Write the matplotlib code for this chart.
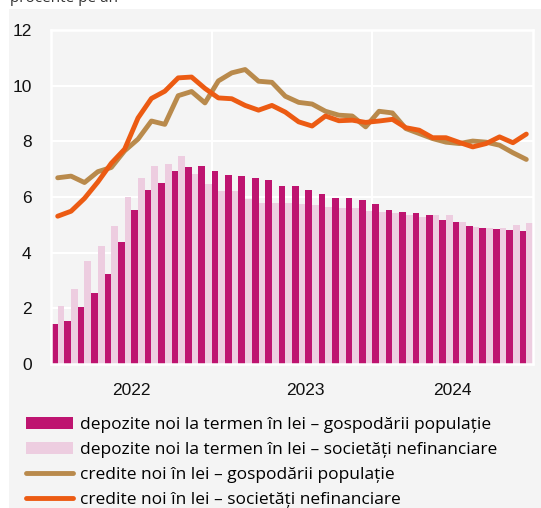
import matplotlib
matplotlib.use("Agg")
import matplotlib.pyplot as plt
from matplotlib.patches import Patch, Rectangle
from matplotlib.lines import Line2D
import numpy as np

# Date (procente pe an), lunar, 36 de luni
dep_gosp = [1.44, 1.54, 2.05, 2.56, 3.22, 4.37, 5.52, 6.25, 6.49, 6.94, 7.06, 7.13,
            6.94, 6.80, 6.74, 6.70, 6.61, 6.38, 6.38, 6.25, 6.10, 5.98, 5.97, 5.88,
            5.74, 5.53, 5.47, 5.41, 5.35, 5.18, 5.11, 4.96, 4.88, 4.86, 4.81, 4.79]
dep_soc = [2.08, 2.69, 3.70, 4.23, 4.96, 6.00, 6.70, 7.11, 7.18, 7.47, 6.81, 6.47,
           6.21, 6.22, 5.92, 5.78, 5.79, 5.78, 5.76, 5.71, 5.63, 5.62, 5.59, 5.49,
           5.46, 5.42, 5.34, 5.28, 5.34, 5.34, 5.11, 4.94, 4.88, 4.88, 4.98, 5.07]
cred_gosp = [6.69, 6.75, 6.52, 6.91, 7.06, 7.66, 8.08, 8.73, 8.61, 9.64, 9.79, 9.38,
             10.17, 10.46, 10.58, 10.16, 10.12, 9.62, 9.40, 9.34, 9.08, 8.94, 8.91, 8.52,
             9.08, 9.02, 8.46, 8.28, 8.10, 7.97, 7.92, 8.01, 7.97, 7.86, 7.59, 7.35]
cred_soc = [5.31, 5.49, 5.95, 6.54, 7.21, 7.72, 8.84, 9.54, 9.80, 10.28, 10.31, 9.90,
            9.56, 9.53, 9.29, 9.12, 9.29, 9.05, 8.70, 8.55, 8.91, 8.74, 8.76, 8.68,
            8.73, 8.79, 8.49, 8.40, 8.13, 8.13, 7.96, 7.80, 7.92, 8.16, 7.95, 8.26]
ani_pos = [5.5, 18.5, 29.5]
ani_etichete = ["2022", "2023", "2024"]
etichete = ["depozite noi la termen în lei – gospodării populație",
            "depozite noi la termen în lei – societăți nefinanciare",
            "credite noi în lei – gospodării populație",
            "credite noi în lei – societăți nefinanciare"]

c_dep_gosp = "#BE1470"
c_dep_soc = "#EDCDE0"
c_cred_gosp = "#B98A4C"
c_cred_soc = "#EC5B13"
fundal = "#F4F4F4"

font_text = ["Open Sans", "DejaVu Sans"]
font_cifre = ["Liberation Sans Narrow", "Liberation Sans", "DejaVu Sans"]

fig = plt.figure(figsize=(5.41, 5.08), dpi=100, facecolor="white")
fig.patches.append(Rectangle((9 / 541, 0), 1, 1 - 9 / 508, transform=fig.transFigure,
                             facecolor=fundal, edgecolor="none", zorder=-10))
# titlul e taiat sus si in original
fig.text(10 / 541, 1 - 2 / 508, "procente pe an", fontsize=11, family=font_text,
         color="#333333", va="baseline", ha="left")

ax = fig.add_axes([51 / 541, 1 - 364 / 508, (533 - 51) / 541, (364 - 30) / 508])
ax.set_facecolor(fundal)

x = np.arange(len(dep_gosp))
ax.bar(x - 0.25, dep_gosp, width=0.5, color=c_dep_gosp, zorder=2)
ax.bar(x + 0.25, dep_soc, width=0.5, color=c_dep_soc, zorder=2)
ax.plot(x, cred_gosp, color=c_cred_gosp, lw=3.5, solid_capstyle="round",
        solid_joinstyle="round", zorder=3)
ax.plot(x, cred_soc, color=c_cred_soc, lw=3.5, solid_capstyle="round",
        solid_joinstyle="round", zorder=4)

ax.set_xlim(-0.5, 35.5)
ax.set_ylim(0, 12)
ax.set_yticks(range(0, 13, 2))
ax.set_xticks(ani_pos)
ax.set_xticklabels(ani_etichete)
ax.set_xticks([11.5, 23.5], minor=True)
ax.tick_params(axis="both", which="both", length=0)
ax.tick_params(axis="y", pad=14)
ax.tick_params(axis="x", pad=14)
for lab in ax.get_xticklabels() + ax.get_yticklabels():
    lab.set_family(font_cifre)
    lab.set_fontsize(12.5)
    lab.set_color("#111111")
ax.grid(True, axis="y", color="white", lw=1.5, zorder=1)
ax.grid(True, axis="x", which="minor", color="white", lw=1.5, zorder=1)
ax.grid(False, axis="x", which="major")
for s in ax.spines.values():
    s.set_color("white")
    s.set_linewidth(1.8)

handles = [Patch(facecolor=c_dep_gosp, edgecolor="none"),
           Patch(facecolor=c_dep_soc, edgecolor="none"),
           Line2D([], [], color=c_cred_gosp, lw=3.5, solid_capstyle="round"),
           Line2D([], [], color=c_cred_soc, lw=3.5, solid_capstyle="round")]
fig.legend(handles, etichete, loc="upper left", bbox_to_anchor=(17 / 541, 1 - 408 / 508),
           frameon=False, prop={"family": font_text, "size": 12.5}, handlelength=2.75,
           handleheight=0.7, handletextpad=0.35, labelspacing=0.52, borderpad=0)

fig.savefig("out.png", dpi=100, facecolor="white")
